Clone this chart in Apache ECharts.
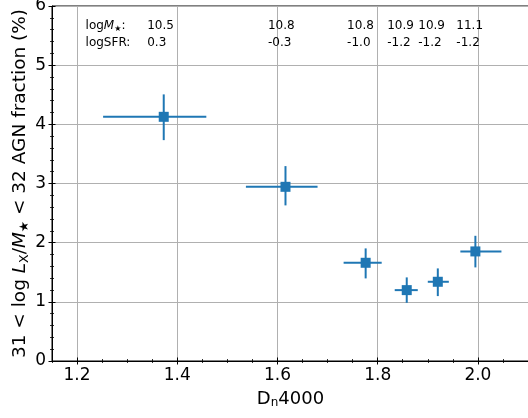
<!DOCTYPE html>
<html><head><meta charset="utf-8">
<script src="https://cdn.jsdelivr.net/npm/echarts@6/dist/echarts.min.js"></script>
<style>html,body{margin:0;padding:0;background:#fff}#c{width:528px;height:418px}</style>
</head><body><div id="c"></div>
<script>
// Data
const dn4000     = [1.373, 1.616, 1.776, 1.858, 1.920, 1.995];
const dnLow      = [1.252, 1.537, 1.732, 1.834, 1.900, 1.965];
const dnHigh     = [1.458, 1.680, 1.808, 1.880, 1.942, 2.047];
const agnFrac    = [4.127, 2.944, 1.660, 1.198, 1.339, 1.852];
const fracLow    = [3.733, 2.630, 1.396, 0.984, 1.097, 1.582];
const fracHigh   = [4.506, 3.294, 1.903, 1.413, 1.565, 2.116];
const logMass    = ['10.5', '10.8', '10.8', '10.9', '10.9', '11.1'];
const logSFR     = ['0.3', '-0.3', '-1.0', '-1.2', '-1.2', '-1.2'];
const annotX     = [1.341, 1.582, 1.740, 1.820, 1.882, 1.958];
const annotHeadX = 1.218;
const rowMassY   = 5.65;
const rowSfrY    = 5.36;
const xMajorTicks = [1.2, 1.4, 1.6, 1.8, 2.0];
const xTickLabels = ['1.2', '1.4', '1.6', '1.8', '2.0'];

const BLUE = '#1f77b4';
const FONT = 'DejaVu Sans';
const XMIN = 1.15, XMAX = 2.102;

const errData = dn4000.map((x, i) => [x, agnFrac[i], dnLow[i], dnHigh[i], fracLow[i], fracHigh[i]]);

const annotData = [[annotHeadX, rowMassY, 'mhead'], [annotHeadX, rowSfrY, 'logSFR:']];
logMass.forEach((t, i) => annotData.push([annotX[i], rowMassY, t]));
logSFR.forEach((t, i) => annotData.push([annotX[i], rowSfrY, t]));

function xAxisBase(extra) {
  return Object.assign({
    type: 'value', min: XMIN, max: XMAX, interval: 0.05, position: 'bottom',
    axisLine: {show: false}, axisLabel: {show: false}, splitLine: {show: false},
    axisTick: {show: false}
  }, extra);
}

const option = {
  animation: false,
  backgroundColor: '#fff',
  textStyle: {fontFamily: FONT},
  grid: {left: 52, right: -1, top: 6, bottom: 57, outerBoundsMode: 'none', containLabel: false,
         show: true, borderColor: '#000', borderWidth: 1, backgroundColor: 'transparent'},
  xAxis: [
    xAxisBase({
      name: 'D{sub|n}4000', nameLocation: 'middle', nameGap: 28, nameMoveOverlap: false,
      nameTextStyle: {fontSize: 18, color: '#000', fontFamily: FONT, rich: {sub: {fontSize: 12, verticalAlign: 'bottom', fontFamily: FONT, color: '#000', padding: [8, 0, 0, 0]}}},
      axisLine: {show: true, lineStyle: {color: '#000', width: 1}},
      axisTick: {show: true, length: 3.5, lineStyle: {color: '#000'}, customValues: xMajorTicks},
      axisLabel: {show: true, fontSize: 17, color: '#000', fontFamily: FONT, margin: 6, customValues: xMajorTicks,
        formatter: v => { const k = xMajorTicks.findIndex(t => Math.abs(t - v) < 1e-6); return k >= 0 ? xTickLabels[k] : ''; }},
      splitLine: {show: true, lineStyle: {color: '#b0b0b0', width: 1}}
    }),
    xAxisBase({axisTick: {show: true, inside: true, length: 3.5, lineStyle: {color: '#000'}, customValues: xMajorTicks}}),
    xAxisBase({axisTick: {show: true, inside: false, length: 2, lineStyle: {color: '#000', width: 0.8}}}),
    xAxisBase({axisTick: {show: true, inside: true, length: 2, lineStyle: {color: '#000', width: 0.8}}})
  ],
  yAxis: [
    {
      type: 'value', min: 0, max: 6, interval: 1,
      name: '31 < log {it|L}{sub|X}/{it|M}{sub|★} < 32 AGN fraction (%)',
      nameLocation: 'middle', nameGap: 21, nameMoveOverlap: false,
      nameTextStyle: {fontSize: 18.5, color: '#000', fontFamily: FONT,
        rich: {it: {fontSize: 18.5, fontStyle: 'italic', fontFamily: FONT, color: '#000'},
               sub: {fontSize: 12.5, fontFamily: FONT, color: '#000', verticalAlign: 'bottom', padding: [8, 0, 0, 0]}}},
      axisLine: {show: true, lineStyle: {color: '#000', width: 1}},
      axisTick: {show: true, length: 3.5, lineStyle: {color: '#000'}},
      minorTick: {show: true, splitNumber: 5, length: 2, lineStyle: {color: '#000', width: 0.8}},
      axisLabel: {fontSize: 17, color: '#000', fontFamily: FONT, margin: 6},
      splitLine: {show: true, lineStyle: {color: '#b0b0b0', width: 1}}
    },
    {
      type: 'value', min: 0, max: 6, interval: 1, position: 'left',
      axisLine: {show: false}, axisLabel: {show: false}, splitLine: {show: false},
      axisTick: {show: true, inside: true, length: 3.5, lineStyle: {color: '#000'}},
      minorTick: {show: true, splitNumber: 5, length: 2, lineStyle: {color: '#000', width: 0.8}}
    }
  ],
  series: [
    {
      type: 'custom', xAxisIndex: 0, yAxisIndex: 0, data: errData,
      encode: {x: [0, 2, 3], y: [1, 4, 5]},
      renderItem: function (params, api) {
        const x = api.value(0), y = api.value(1);
        const c = api.coord([x, y]);
        const xl = api.coord([api.value(2), y]), xh = api.coord([api.value(3), y]);
        const yl = api.coord([x, api.value(4)]), yh = api.coord([x, api.value(5)]);
        return {type: 'group', children: [
          {type: 'line', shape: {x1: xl[0], y1: c[1], x2: xh[0], y2: c[1]}, style: {stroke: BLUE, lineWidth: 2}},
          {type: 'line', shape: {x1: c[0], y1: yl[1], x2: c[0], y2: yh[1]}, style: {stroke: BLUE, lineWidth: 2}},
          {type: 'rect', shape: {x: c[0] - 5, y: c[1] - 5, width: 10, height: 10}, style: {fill: BLUE}}
        ]};
      }
    },
    {
      type: 'scatter', xAxisIndex: 0, yAxisIndex: 0, data: annotData,
      symbol: 'rect', symbolSize: 1, itemStyle: {color: 'rgba(0,0,0,0)'}, silent: true,
      labelLayout: {hideOverlap: false},
      label: {
        show: true, position: [0, 0], align: 'left', verticalAlign: 'middle',
        fontSize: 12, color: '#000', opacity: 1, textBorderWidth: 0, fontFamily: FONT,
        formatter: p => p.data[2] === 'mhead' ? 'log{it|M}{sub|★}:' : p.data[2],
        rich: {it: {fontSize: 12, fontStyle: 'italic', fontFamily: FONT, color: '#000'},
               sub: {fontSize: 8, fontFamily: FONT, color: '#000', verticalAlign: 'bottom', padding: [6, 0, 0, 0]}}
      }
    }
  ]
};
const chart = echarts.init(document.getElementById('c'), null, {renderer: 'canvas'});
chart.setOption(option);
</script></body></html>
